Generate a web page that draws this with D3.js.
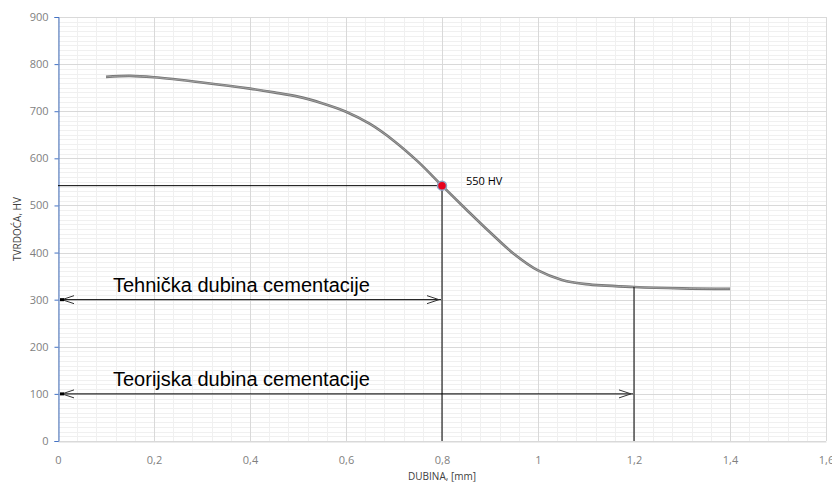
<!DOCTYPE html>
<html><head><meta charset="utf-8">
<script src="https://cdn.jsdelivr.net/npm/d3@7"></script>
<style>body{margin:0;background:#fff}svg{display:block}</style>
</head><body>
<svg id="c" width="832" height="482"></svg>
<script>
const depth = [0.1, 0.15, 0.2, 0.3, 0.4, 0.45, 0.5, 0.55, 0.6, 0.65, 0.7, 0.75, 0.8, 0.85, 0.9, 0.95, 1.0, 1.05, 1.1, 1.2, 1.3, 1.4];
const hardness = [773, 775, 772, 761, 748, 740, 731, 717, 699, 673, 637, 593, 542, 492, 443, 397, 362, 342, 333, 327, 324, 323];
const xTicks = [0, 0.2, 0.4, 0.6, 0.8, 1.0, 1.2, 1.4, 1.6];
const yTicks = [0, 100, 200, 300, 400, 500, 600, 700, 800, 900];
const markPoint = {x: 0.8, y: 542, label: "550 HV"};
const arrows = [
  {y: 300, x1: 0, x2: 0.8, text: "Tehnička dubina cementacije"},
  {y: 100, x1: 0, x2: 1.2, text: "Teorijska dubina cementacije"}
];
const dropX = 1.2, dropY = 327;
const xTitle = "DUBINA, [mm]", yTitle = "TVRDOĆA, HV";

const svg = d3.select("#c");
const L = 58, R = 826, T = 17, B = 441;
const x = d3.scaleLinear().domain([0, 1.6]).range([L, R]);
const y = d3.scaleLinear().domain([0, 900]).range([B, T]);

// minor grid
const g = svg.append("g");
g.selectAll(".mx").data(d3.range(0, 1.6001, 0.04)).join("line")
  .attr("x1", d => Math.round(x(d)) + 0.5).attr("x2", d => Math.round(x(d)) + 0.5)
  .attr("y1", T).attr("y2", B).attr("stroke", "#f0f0f0");
g.selectAll(".my").data(d3.range(0, 901, 10)).join("line")
  .attr("y1", d => Math.round(y(d)) + 0.5).attr("y2", d => Math.round(y(d)) + 0.5)
  .attr("x1", L).attr("x2", R).attr("stroke", "#f0f0f0");
// major grid
g.selectAll(".Mx").data(xTicks).join("line")
  .attr("x1", d => Math.round(x(d)) + 0.5).attr("x2", d => Math.round(x(d)) + 0.5)
  .attr("y1", T).attr("y2", B).attr("stroke", "#d9d9d9");
g.selectAll(".My").data(yTicks).join("line")
  .attr("y1", d => Math.round(y(d)) + 0.5).attr("y2", d => Math.round(y(d)) + 0.5)
  .attr("x1", L).attr("x2", R).attr("stroke", "#d9d9d9");

// axes
const yAxis = d3.axisLeft(y).tickValues(yTicks).tickSize(4).tickFormat(d3.format("d"));
const ya = svg.append("g").attr("transform", `translate(${L + 0.5},0)`).call(yAxis);
ya.select(".domain").attr("stroke", "#4472c4");
ya.selectAll(".tick line").attr("stroke", "#4472c4");
ya.selectAll("text").attr("fill", "#7f7f7f").attr("font-family", "Open Sans, sans-serif").attr("font-size", 11).attr("dx", -3);

const fmt = d => d3.format("~g")(d).replace(".", ",");
const xAxis = d3.axisBottom(x).tickValues(xTicks).tickSize(0).tickFormat(fmt);
const xa = svg.append("g").attr("transform", `translate(0,${B + 0.5})`).call(xAxis);
xa.select(".domain").attr("stroke", "#d9d9d9");
xa.selectAll("text").attr("fill", "#7f7f7f").attr("font-family", "Open Sans, sans-serif").attr("font-size", 11).attr("dy", "1.75em");

svg.append("text").attr("x", x(0.8)).attr("y", 480).attr("text-anchor", "middle")
  .attr("font-family", "Open Sans, sans-serif").attr("font-size", 10).attr("fill", "#404040").text(xTitle);
svg.append("text").attr("transform", `translate(21,${(T + B) / 2}) rotate(-90)`).attr("text-anchor", "middle")
  .attr("font-family", "Open Sans, sans-serif").attr("font-size", 10).attr("fill", "#404040").text(yTitle);

// curve
const line = d3.line().x((d, i) => x(depth[i])).y(d => y(d)).curve(d3.curveCatmullRom.alpha(0.5));
svg.append("path").datum(hardness).attr("d", line).attr("fill", "none")
  .attr("stroke", "#767676").attr("stroke-width", 2.6);
svg.append("path").datum(hardness).attr("d", line).attr("fill", "none")
  .attr("stroke", "#a0a0a0").attr("stroke-width", 1);

// reference lines
svg.append("line").attr("x1", L).attr("x2", x(markPoint.x)).attr("y1", y(markPoint.y)).attr("y2", y(markPoint.y))
  .attr("stroke", "#000").attr("stroke-width", 1);
svg.append("line").attr("x1", x(markPoint.x)).attr("x2", x(markPoint.x)).attr("y1", y(markPoint.y)).attr("y2", B)
  .attr("stroke", "#000").attr("stroke-width", 1);
svg.append("line").attr("x1", x(dropX)).attr("x2", x(dropX)).attr("y1", y(dropY)).attr("y2", B)
  .attr("stroke", "#000").attr("stroke-width", 1);

// arrows
arrows.forEach(a => {
  const yy = y(a.y), xa1 = x(a.x1) + 2, xa2 = x(a.x2) - 1;
  svg.append("line").attr("x1", xa1).attr("x2", xa2).attr("y1", yy).attr("y2", yy).attr("stroke", "#000").attr("stroke-width", 1);
  svg.append("path").attr("d", `M${xa1 + 14},${yy - 4} L${xa1 + 2},${yy} L${xa1 + 14},${yy + 4}`)
    .attr("fill", "none").attr("stroke", "#333").attr("stroke-width", 1);
  svg.append("path").attr("d", `M${xa2 - 14},${yy - 4} L${xa2 - 2},${yy} L${xa2 - 14},${yy + 4}`)
    .attr("fill", "none").attr("stroke", "#333").attr("stroke-width", 1);
  svg.append("rect").attr("x", xa1).attr("y", yy - 1.5).attr("width", 4).attr("height", 3).attr("fill", "#000");
  svg.append("text").attr("x", 113).attr("y", yy - 8).attr("font-family", "Liberation Sans, Arial, sans-serif")
    .attr("font-size", 20).attr("fill", "#000").text(a.text);
});

// marker
svg.append("circle").attr("cx", x(markPoint.x)).attr("cy", y(markPoint.y)).attr("r", 4.5)
  .attr("fill", "#e8001c").attr("stroke", "#8fa0c0").attr("stroke-width", 1.5);
svg.append("text").attr("x", 466).attr("y", y(markPoint.y) - 1).attr("font-family", "Open Sans, sans-serif")
  .attr("font-size", 11).attr("fill", "#000").text(markPoint.label);
</script>
</body></html>
